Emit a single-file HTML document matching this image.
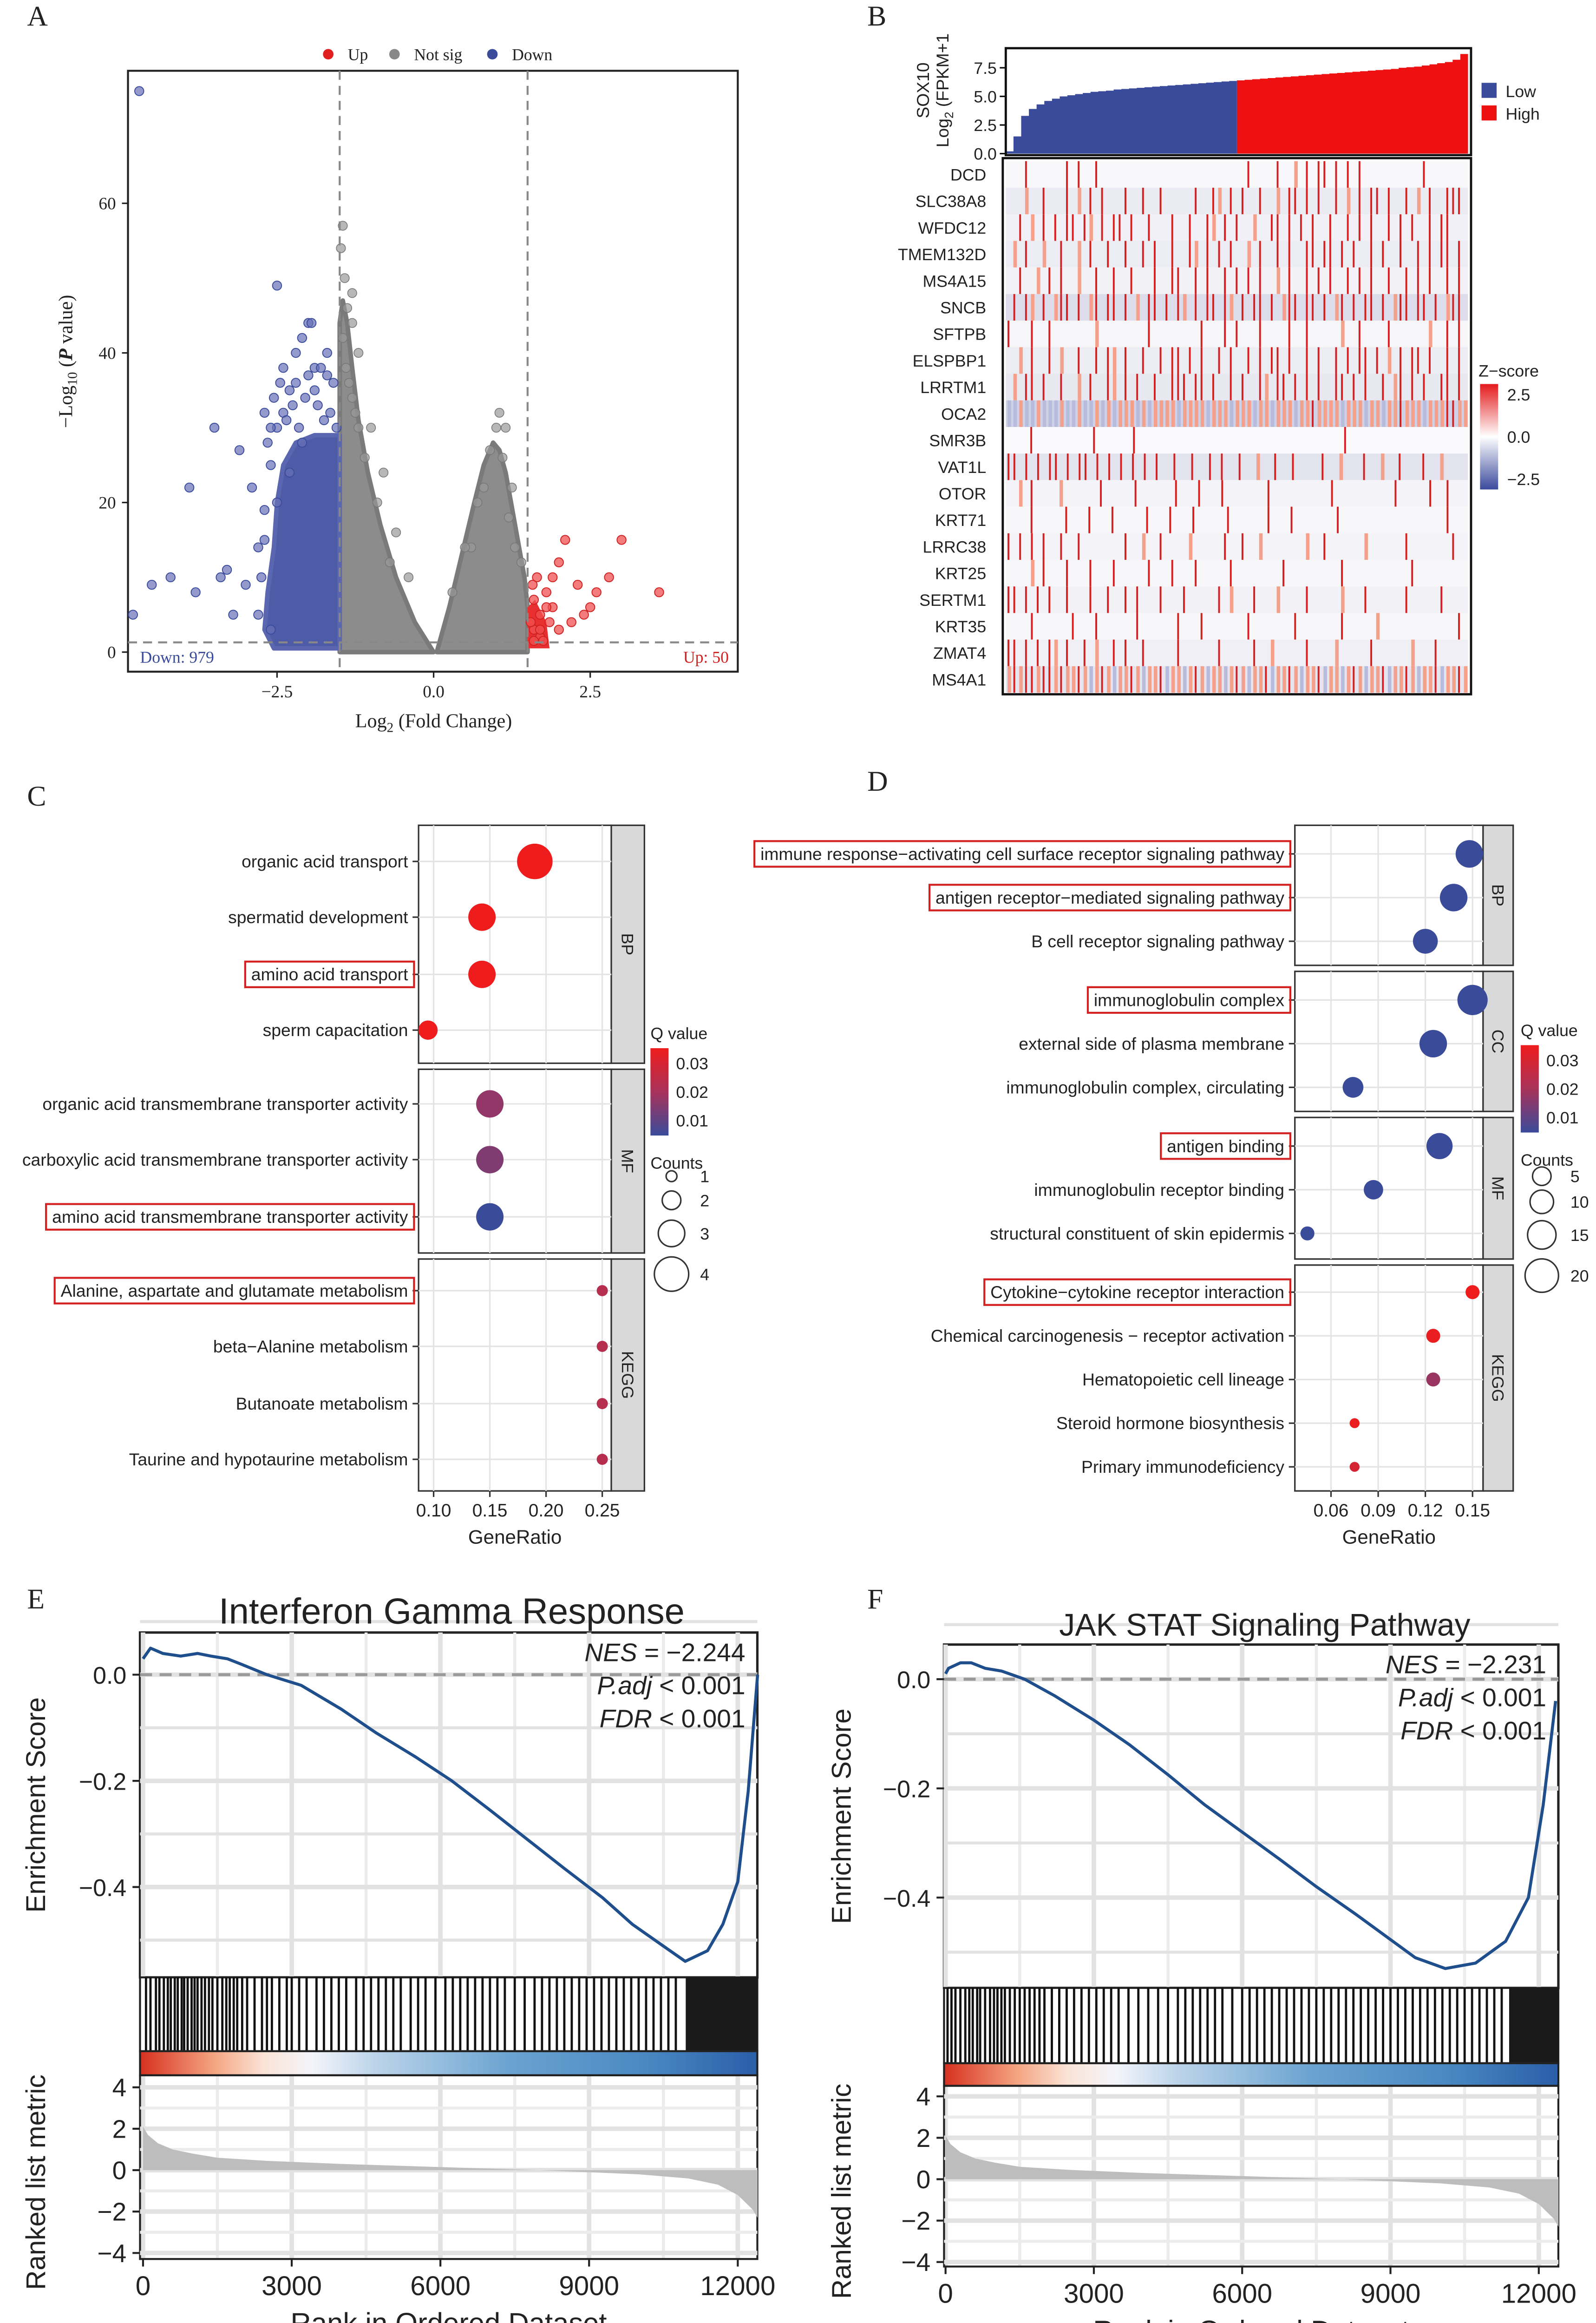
<!DOCTYPE html>
<html><head><meta charset="utf-8">
<style>
html,body{margin:0;padding:0;background:#fff;overflow:hidden;}
svg{display:block;font-family:"Liberation Sans",sans-serif;}
.serif{font-family:"Liberation Serif",serif;}
</style></head>
<body>
<svg id="fig" width="3436" height="5072" viewBox="0 0 1060 1564.7" preserveAspectRatio="none" xmlns="http://www.w3.org/2000/svg">
<defs>
<linearGradient id="gsea" x1="0" x2="1" y1="0" y2="0">
<stop offset="0" stop-color="#d7301f"/><stop offset="0.12" stop-color="#f4a582"/><stop offset="0.2" stop-color="#fbe3d6"/><stop offset="0.28" stop-color="#f3f5fa"/><stop offset="0.38" stop-color="#bcd4ea"/><stop offset="0.6" stop-color="#6aa3d0"/><stop offset="0.82" stop-color="#4a88c2"/><stop offset="1" stop-color="#2a5ea8"/>
</linearGradient>
<linearGradient id="zs" x1="0" x2="0" y1="0" y2="1">
<stop offset="0" stop-color="#e41a1c"/><stop offset="0.5" stop-color="#ffffff"/><stop offset="1" stop-color="#3b4a9c"/>
</linearGradient>
<linearGradient id="qv" x1="0" x2="0" y1="0" y2="1">
<stop offset="0" stop-color="#ee1c1c"/><stop offset="0.5" stop-color="#a8325a"/><stop offset="1" stop-color="#3a4b9a"/>
</linearGradient>
</defs>
<g id="root"></g>
</svg>
<script>
// ---------- DATA ----------
// Panel A volcano
const volUpX=[1.6,1.7,1.8,1.9,2.0,2.1,2.3,2.5,2.6,2.8,3.0,3.6,2.4,1.9,1.6,1.7,2.2,1.55,1.65,2.0,1.75,1.85,1.6,1.7,1.8,1.58];
const volUpY=[3,5,8,10,12,15,9,6,8,10,15,8,5,6,7,2,4,4,10,3,1.5,4,1.5,3,6,9];
const volDownX=[-4.7,-2.5,-2.0,-2.1,-3.9,-4.8,-4.5,-4.2,-3.8,-3.4,-3.3,-3.2,-3.0,-2.8,-2.7,-2.6,-2.5,-2.4,-2.3,-2.2,-2.0,-1.9,-1.8,-1.7,-1.6,-3.5,-2.9,-2.7,-2.4,-3.1,-2.2,-1.95,-2.6,-2.65,-2.55,-2.45,-2.35,-2.25,-2.15,-2.05,-1.85,-1.75,-1.65,-1.55,-2.8,-2.75,-2.7,-2.6,-2.5,-2.3,-2.1,-1.9,-1.7];
const volDownY=[75,49,44,42,22,5,9,10,8,10,11,5,9,14,19,25,30,32,35,36,37,38,38,37,36,30,22,32,38,27,40,44,30,28,34,36,31,33,30,34,33,31,32,30,5,10,15,3,20,24,28,35,40];
const volGrayX=[-1.45,-1.4,-1.3,-1.2,-1.1,-0.9,-0.7,0.6,0.8,0.9,1.0,1.1,1.2,1.3,-1.35,-1.25,-1.48,-1.42,-1.38,-1.3,-1.2,-1.0,-0.8,-0.6,-0.4,0.3,0.5,0.7,1.05,1.15,1.25,1.4,-1.45,-1.3];
const volGrayY=[42,38,34,30,26,20,12,14,22,27,30,26,18,14,36,32,54,50,46,44,40,30,24,16,10,8,14,20,32,30,22,12,57,48];
const volXTicks=[-2.5,0,2.5];
const volYTicks=[0,20,40,60];
// Panel B
const exprBlue=[0.2,1.5,3.3,3.9,4.3,4.6,4.8,5.0,5.1,5.2,5.3,5.4,5.45,5.5,5.6,5.65,5.7,5.75,5.8,5.85,5.9,5.95,6.0,6.05,6.1,6.15,6.2,6.25,6.3,6.35];
const exprRed=[6.4,6.45,6.5,6.55,6.6,6.65,6.7,6.75,6.8,6.85,6.9,6.95,7.0,7.05,7.1,7.15,7.2,7.25,7.3,7.35,7.4,7.5,7.55,7.6,7.7,7.8,7.9,8.0,8.2,8.7];
const exprTicks=[0,2.5,5,7.5];
const genes=["DCD","SLC38A8","WFDC12","TMEM132D","MS4A15","SNCB","SFTPB","ELSPBP1","LRRTM1","OCA2","SMR3B","VAT1L","OTOR","KRT71","LRRC38","KRT25","SERTM1","KRT35","ZMAT4","MS4A1"];
const geneBg=["#f8f8fb","#ebebf3","#f0f0f6","#ececf4","#f1f1f6","#dcdceb","#f6f6f9","#ececf3","#e8e8f1","#cfd2e6","#f9f9fb","#e3e3ee","#f4f4f8","#f7f7fa","#f4f4f8","#f7f7fa","#f1f1f6","#f7f7fa","#efeff5","#e6e4ee"];
const geneHits=[
"...r......r.r..r.........................r....r..p.r.rr.r.r.r..........r.......",
"...p..r...r.p.r.r...r..r..r.....r..rp.r.r..r..p.rr.r.r..r.p.r.rr.r..r.p.r..rrr.",
"..r.p.r.r.rr.rp.r.rr.r..r...r..r..rp.r.r..p..rr.r.r.r..r..r.r.r..r.r.r..r.rr...",
".p.r..p..r..p.r..r..r..r.r..r..rp.r.r.r..p.r..r.r..rr.rr.r.r..r.r..r..r.r.rr.r.",
"..r..p.r.r..p..r..r..r...r..rr..r.r..r.r.r.r..p.r..r.r.r..r.r.r..r..r.r.r..r.r.",
".r.rp.r.prr.r.pr.rr.r.p.rr.r.rp.r.rr.rp.r.rr.r.prr.rr.r.pr.r.rr.r.prr.rr.r.prr.",
"r...r..r.......p........r........r...r.r...r....r..r.....p..r....r......p..r.r.",
"..p.r..r.p..r..r.rp.r..r..r.rr.r.r..r.r..r.r.rr.r..r.r..r.r.rr.r.p.r.rr.r..r.r.",
".p.rr.r..r..p.r..rp.r.r..r..rrr.rr.r..r.r..rp.rr.r.r.r..rr.r.r..r.pr.r.r..rr.r.",
"bbpbbpbbbpbbpbbpbpbpppbpbppppbppppbpppbpppbppbpppbpprppppbpppbppbpprpppbppprrpp",
"....r..........r......r....................................r.....................",
"rr.r.r.rr.r.rr.r.r.r.r.r.r..r..r..r.r..r..p..r..r....r..p...r..p..r...r..p....",
"..p.r....p......r.....r......r...r...r.......r..........r..........r.....r..r...",
"....r.....r...r...r.....r...r...r.....r......r...r.......r..................r...",
"r.r.r.r..r..r.......r..p..r....p.....r..r..p.......p..r......p......r.......r..",
"....p.r...r...r...r.....r...r...r.....r........r.........r...........r.........",
"rr.r.r.r..r...r..r..r.r...r...r.....r.p...r...p....r.....p...r......r.....r....",
"....r......r...r......r......r...r.......r.......r.......r.....p.............r.",
"rr.r.r.rp.r..r.p..r.r..r.....r......r.....r..p.....r....p.....r......p...r.....",
"prprrprrprpprpbprpbpprpbpprbppbprpbppbprpbpprbpprpbpprbppbprpbpprbpprpbpprbpprp"
];
// Panel C
const cTerms=["organic acid transport","spermatid development","amino acid transport","sperm capacitation","organic acid transmembrane transporter activity","carboxylic acid transmembrane transporter activity","amino acid transmembrane transporter activity","Alanine, aspartate and glutamate metabolism","beta\u2212Alanine metabolism","Butanoate metabolism","Taurine and hypotaurine metabolism"];
const cRatio=[0.19,0.143,0.143,0.095,0.15,0.15,0.15,0.25,0.25,0.25,0.25];
const cCount=[4,3,3,2,3,3,3,1,1,1,1];
const cQ=[0.033,0.033,0.033,0.035,0.018,0.016,0.008,0.023,0.023,0.023,0.023];
const cBoxed=[2,6,7];
const cTicks=[0.10,0.15,0.20,0.25];
// Panel D
const dTerms=["immune response\u2212activating cell surface receptor signaling pathway","antigen receptor\u2212mediated signaling pathway","B cell receptor signaling pathway","immunoglobulin complex","external side of plasma membrane","immunoglobulin complex, circulating","antigen binding","immunoglobulin receptor binding","structural constituent of skin epidermis","Cytokine\u2212cytokine receptor interaction","Chemical carcinogenesis \u2212 receptor activation","Hematopoietic cell lineage","Steroid hormone biosynthesis","Primary immunodeficiency"];
const dRatio=[0.148,0.138,0.12,0.15,0.125,0.074,0.129,0.087,0.045,0.15,0.125,0.125,0.075,0.075];
const dCount=[17,17,15,19,17,12,16,11,7,7,7,7,4,4];
const dQ=[0.004,0.004,0.004,0.004,0.004,0.004,0.004,0.004,0.004,0.036,0.035,0.018,0.035,0.03];
const dBoxed=[0,1,3,6,9];
const dTicks=[0.06,0.09,0.12,0.15];
// Panel E/F GSEA
const eRank=[0,150,400,760,1100,1370,1700,1975,2500,3190,4000,4710,5500,6230,7000,7750,8500,9270,9870,10480,10940,11390,11700,12000,12210,12400];
const eES=[0.03,0.05,0.04,0.035,0.04,0.035,0.03,0.02,0.0,-0.02,-0.065,-0.11,-0.155,-0.2,-0.255,-0.31,-0.365,-0.42,-0.47,-0.51,-0.54,-0.52,-0.47,-0.39,-0.22,0.0];
const fRank=[0,60,300,520,800,1130,1600,2200,3000,3720,4500,5240,6000,6760,7500,8290,9500,10110,10720,11330,11790,12090,12340];
const fES=[0.01,0.02,0.03,0.03,0.02,0.015,0.0,-0.03,-0.075,-0.12,-0.175,-0.23,-0.28,-0.33,-0.38,-0.43,-0.51,-0.53,-0.52,-0.48,-0.4,-0.23,-0.04];
const eHits=[60,150,260,330,420,500,560,640,700,780,830,900,980,1040,1100,1180,1250,1330,1400,1500,1600,1680,1750,1830,1900,2000,2100,2250,2400,2500,2600,2750,2900,3000,3150,3300,3500,3650,3800,3950,4100,4300,4450,4600,4750,4900,5050,5200,5400,5550,5700,5900,6100,6250,6400,6550,6700,6850,7000,7150,7300,7500,7700,7900,8050,8200,8350,8500,8650,8800,8950,9100,9250,9400,9550,9700,9850,10000,10150,10300,10450,10600,10750];
const fHits=[40,120,200,300,400,480,550,640,700,800,900,980,1050,1130,1200,1300,1400,1500,1600,1700,1800,1900,2000,2150,2300,2450,2600,2750,2900,3050,3200,3350,3500,3700,3900,4100,4300,4500,4700,4850,5000,5150,5300,5450,5600,5800,6000,6150,6300,6450,6600,6750,6900,7050,7200,7350,7500,7650,7800,7950,8100,8250,8400,8550,8700,8850,9000,9150,9300,9450,9600,9750,9900,10050,10200,10350,10500,10650,10800,10950,11100,11250];
const metRank=[0,100,300,600,1000,1500,2500,4000,6000,8000,10000,11000,11600,12000,12300,12400];
const metVal=[2.1,1.7,1.3,1.0,0.8,0.6,0.45,0.3,0.15,0.0,-0.2,-0.4,-0.7,-1.2,-1.9,-2.3];
const gseaXTicks=[0,3000,6000,9000,12000];
const esTicks=[0,-0.2,-0.4];
const metTicks=[4,2,0,-2,-4];

// ---------- HELPERS ----------
const NS="http://www.w3.org/2000/svg";
const root=document.getElementById('root');
function mk(tag,at,parent){const e=document.createElementNS(NS,tag);for(const k in at)e.setAttribute(k,at[k]);(parent||root).appendChild(e);return e;}
function txt(s,x,y,size,anchor,extra){const e=mk('text',Object.assign({x:x,y:y,'font-size':size,'text-anchor':anchor||'start',fill:'#222'},extra||{}));e.textContent=s;return e;}
function lin(d0,d1,r0,r1){return v=>r0+(v-d0)*(r1-r0)/(d1-d0);}

// ---------- PANEL LETTERS ----------
[["A",18,17],["B",576,17],["C",18,535],["D",576,525],["E",18,1068],["F",576,1068]].forEach(p=>{
 const t=txt(p[0],p[1],p[2],19,'start',{class:'serif'});
 
 
});

// ---------- PANEL A ----------
{
const ax=lin(0,2.5,288,392), ay=lin(0,60,433,135);
const f=mk('rect',{x:85,y:47,width:405,height:399,fill:'#fff',stroke:'#222','stroke-width':1.3});


const P=a=>a.map(p=>ax(p[0])+','+ay(p[1])).join(' ');
const gl=mk('polygon',{points:P([[-1.5,0],[-1.5,44],[-1.45,47],[-1.38,44],[-1.3,38],[-1.2,31],[-1.05,24],[-0.85,17],[-0.6,10],[-0.3,4],[0,0]]),fill:'#8c8c8c',stroke:'#7a7a7a','stroke-width':3,'stroke-linejoin':'round'});


const gr=mk('polygon',{points:P([[0.05,0],[0.25,6],[0.45,13],[0.65,20],[0.8,25],[0.95,28],[1.05,27],[1.15,24],[1.3,17],[1.45,10],[1.5,6],[1.5,0]]),fill:'#8c8c8c',stroke:'#7a7a7a','stroke-width':3,'stroke-linejoin':'round'});


const bl=mk('polygon',{points:P([[-1.5,0.5],[-2.55,0.5],[-2.7,3],[-2.65,8],[-2.55,14],[-2.5,20],[-2.4,25],[-2.2,28],[-1.9,29],[-1.5,29]]),fill:'#4e5ca8',stroke:'#5a67b0','stroke-width':3,'stroke-linejoin':'round'});


const rl=mk('polygon',{points:P([[1.5,0.5],[1.85,0.5],[1.8,4],[1.62,7],[1.5,6]]),fill:'#e83030'});


volGrayX.forEach((x,i)=>{const c=mk('circle',{cx:ax(x),cy:ay(volGrayY[i]),r:3,fill:'#999','fill-opacity':0.7,stroke:'#777','stroke-width':0.5});
 
 });
volDownX.forEach((x,i)=>{const c=mk('circle',{cx:ax(x),cy:ay(volDownY[i]),r:3,fill:'#6670b6','fill-opacity':0.7,stroke:'#3b4b9c','stroke-width':0.6});
 
 });
volUpX.forEach((x,i)=>{const c=mk('circle',{cx:ax(x),cy:ay(volUpY[i]),r:3,fill:'#f05050','fill-opacity':0.75,stroke:'#d02020','stroke-width':0.6});
 
 });
[[-1.5],[1.5]].forEach(v=>{const l=mk('line',{x1:ax(v[0]),x2:ax(v[0]),y1:47,y2:446,stroke:'#888','stroke-width':1.3,'stroke-dasharray':'6,4'});
 
 });
const hl=mk('line',{x1:85,x2:490,y1:ay(1.3),y2:ay(1.3),stroke:'#888','stroke-width':1.3,'stroke-dasharray':'6,4'});


volXTicks.forEach(v=>{const l=mk('line',{x1:ax(v),x2:ax(v),y1:446,y2:450,stroke:'#222'});
 const t=txt(v.toFixed(1).replace('-','\u2212'),ax(v),463,11.5,'middle',{class:'serif'});});
volYTicks.forEach(v=>{const l=mk('line',{x1:81,x2:85,y1:ay(v),y2:ay(v),stroke:'#222'});
 const t=txt(String(v),77,ay(v)+4,11.5,'end',{class:'serif'});});
const xt=txt('',288,483,13,'middle',{class:'serif'});xt.innerHTML='Log<tspan font-size="9" dy="3">2</tspan><tspan dy="-3"> (Fold Change)</tspan>';

const yt=txt('',48,240,13,'middle',{class:'serif',transform:'rotate(-90 48 240)'});yt.innerHTML='\u2212Log<tspan font-size="9" dy="3">10</tspan><tspan dy="-3"> (</tspan><tspan font-weight="bold" font-style="italic">P</tspan> value)';

const d1=txt('Down: 979',93,440,11,'start',{class:'serif',fill:'#3b4b9c'});
const u1=txt('Up: 50',484,440,11,'end',{class:'serif',fill:'#d02020'});
[["Up",'#e02020',218],["Not sig",'#888',262],["Down",'#3b4b9c',327]].forEach(L=>{
 const c=mk('circle',{cx:L[2],cy:36,r:3.5,fill:L[1]});
 const t=txt(L[0],L[2]+13,40,11,'start',{class:'serif'});});
}

// ---------- PANEL B ----------
{
const x0=668,x1=975;
const ay=lin(0,7.5,102,45);
const all=exprBlue.concat(exprRed), n=all.length, bw=(x1-x0)/n, nb=exprBlue.length;
let pb='M'+x0+','+ay(0), pr='M'+(x0+bw*nb)+','+ay(0);
all.forEach((v,i)=>{const xa=x0+i*bw, xb=xa+bw; const seg=' L'+xa+','+ay(v)+' L'+xb+','+ay(v); if(i<nb)pb+=seg; else pr+=seg;});
pb+=' L'+(x0+bw*nb)+','+ay(0)+'Z'; pr+=' L'+x1+','+ay(0)+'Z';
const ab=mk('path',{d:pb,fill:'#3b4b9c'});
const ar=mk('path',{d:pr,fill:'#ee1111'});
const fr=mk('rect',{x:x0,y:32,width:x1-x0+2,height:71,fill:'none',stroke:'#111','stroke-width':1.5});
exprTicks.forEach(v=>{const l=mk('line',{x1:x0-4,x2:x0,y1:ay(v),y2:ay(v),stroke:'#111'});
 const t=txt(v.toFixed(1),x0-6,ay(v)+4,11,'end');});
const yt=txt('',617,60,11.5,'middle',{transform:'rotate(-90 617 60)'});yt.innerHTML='SOX10';

const yt2=txt('',630,60,11.5,'middle',{transform:'rotate(-90 630 60)'});yt2.innerHTML='Log<tspan font-size="8" dy="3">2</tspan><tspan dy="-3"> (FPKM+1</tspan>';

[["Low",'#3b4b9c',55],["High",'#ee1111',70]].forEach(L=>{const r=mk('rect',{x:984,y:L[2],width:10,height:10,fill:L[1]});
 const t=txt(L[0],1000,L[2]+9.5,11);});
const hy0=107, rh=(460-107)/genes.length;
const colors={r:'#d42020',p:'#f4a08a',b:'#b8bcdc'};
genes.forEach((g,i)=>{
 const y=hy0+i*rh;
 const bg=mk('rect',{x:x0,y:y,width:x1-x0,height:rh,fill:geneBg[i]});
 const s=geneHits[i], cw=(x1-x0)/s.length;
 for(let j=0;j<s.length;j++){const ch=s[j]; if(ch==='.')continue;
  const c=mk('rect',{x:x0+j*cw+cw*0.3,y:y,width:(ch==='r'?1.2:cw*0.6),height:rh,fill:colors[ch]});
  
  }
 const t=txt(g,655,y+rh/2+4,11,'end');
});
const hf=mk('rect',{x:x0-2,y:105,width:x1-x0+4,height:356,fill:'none',stroke:'#111','stroke-width':1.5});
const zt=txt('Z\u2212score',982,250,11);
const zb=mk('rect',{x:983,y:255,width:12,height:70,fill:'url(#zs)'});
[["2.5",262],["0.0",290],["\u22122.5",318]].forEach(z=>{const t=txt(z[0],1001,z[1]+4,11);});
}

// ---------- DOT PLOT helper ----------
function qColor(q,qmin,qmax){let t=(q-qmin)/(qmax-qmin);t=Math.max(0,Math.min(1,t));
 const a=[58,75,154],m=[168,50,90],b=[238,28,28];let c;
 if(t<0.5){const u=t/0.5;c=a.map((v,k)=>v+(m[k]-v)*u);}else{const u=(t-0.5)/0.5;c=m.map((v,k)=>v+(b[k]-v)*u);}
 return 'rgb('+c.map(Math.round).join(',')+')';}
function dotPanel(o){
 const ax=lin(o.tk[0],o.tk[o.tk.length-1],o.tx0,o.tx1);
 o.facets.forEach(F=>{
  const r=mk('rect',{x:o.px0,y:F.y0,width:o.px1-o.px0,height:F.y1-F.y0,fill:'#fff',stroke:'#333','stroke-width':1});
  
  o.tk.forEach(v=>{const l=mk('line',{x1:ax(v),x2:ax(v),y1:F.y0,y2:F.y1,stroke:'#e4e4e4'});});
  const s=mk('rect',{x:o.px1,y:F.y0,width:o.sw,height:F.y1-F.y0,fill:'#d9d9d9',stroke:'#333','stroke-width':1});
  
  const cx=o.px1+o.sw/2,cy=(F.y0+F.y1)/2;
  const t=txt(F.name,cx,cy,11,'middle',{transform:'rotate(90 '+cx+' '+cy+')',dy:4});
 });
 o.terms.forEach((term,i)=>{
  const y=o.ys[i];
  const gl=mk('line',{x1:o.px0,x2:o.px1,y1:y,y2:y,stroke:'#e4e4e4'});
  const tk=mk('line',{x1:o.px0-4,x2:o.px0,y1:y,y2:y,stroke:'#333'});
  const t=txt(term,o.px0-7,y+4,o.fs,'end');
  if(o.boxed.indexOf(i)>=0){const w=t.getComputedTextLength? t.getComputedTextLength():term.length*5.6;
   const b=mk('rect',{x:o.px0-7-w-4,y:y-8.5,width:w+8,height:17,fill:'none',stroke:'#d42020','stroke-width':1.3});}
  const c=mk('circle',{cx:ax(o.ratio[i]),cy:y,r:o.rs(o.count[i]),fill:qColor(o.q[i],o.qmin,o.qmax)});
  
  
 });
 const ylast=o.facets[o.facets.length-1].y1;
 o.tk.forEach(v=>{const l=mk('line',{x1:ax(v),x2:ax(v),y1:ylast,y2:ylast+4,stroke:'#333'});
  const t=txt(v.toFixed(2),ax(v),ylast+17,12,'middle');});
 const xt=txt('GeneRatio',(o.px0+o.px1)/2,ylast+35,13,'middle');
}
dotPanel({terms:cTerms,ratio:cRatio,count:cCount,q:cQ,boxed:cBoxed,tk:cTicks,tx0:288,tx1:400,px0:278,px1:406,sw:22,fs:11.5,
 ys:[572,609,647,684,733,770,808,857,894,932,969],
 facets:[{name:'BP',y0:548,y1:706},{name:'MF',y0:710,y1:832},{name:'KEGG',y0:836,y1:990}],
 rs:n=>1+n*2.7,qmin:0.008,qmax:0.033});
dotPanel({terms:dTerms,ratio:dRatio,count:dCount,q:dQ,boxed:dBoxed,tk:dTicks,tx0:884,tx1:978,px0:860,px1:985,sw:20,fs:11.5,
 ys:[567,596,625,664,693,722,761,790,819,858,887,916,945,974],
 facets:[{name:'BP',y0:548,y1:641},{name:'CC',y0:645,y1:738},{name:'MF',y0:742,y1:836},{name:'KEGG',y0:840,y1:990}],
 rs:n=>1.5+n*0.45,qmin:0.004,qmax:0.036});
function dotLegend(x,y,qs,counts,rs,ys){
 const t=txt('Q value',x,y,11);
 const b=mk('rect',{x:x,y:y+6,width:12,height:58,fill:'url(#qv)'});
 qs.forEach((q,i)=>{const tt=txt(q,x+17,y+20+i*19,11);});
 const c=txt('Counts',x,y+86,11);
 counts.forEach((n,i)=>{const cc=mk('circle',{cx:x+14,cy:ys[i],r:rs(n),fill:'#fff',stroke:'#333'});
  const tt=txt(String(n),x+33,ys[i]+4,11);});
}
dotLegend(432,690,['0.03','0.02','0.01'],[1,2,3,4],n=>1+n*2.6,[781,797,819,846]);
dotLegend(1010,688,['0.03','0.02','0.01'],[5,10,15,20],n=>4.5+n*0.33,[781,798,820,847]);

// ---------- GSEA helper ----------
function gsea(o){
 const ax=lin(0,12000,o.x0,o.x12), ay=lin(0,-0.4,o.y0,o.y04), am=lin(0,4,o.m0,o.m4);
 const f=mk('rect',{x:o.bx0,y:o.top,width:o.bx1-o.bx0,height:o.bar-o.top,fill:'#fff',stroke:'#222','stroke-width':1.6});
 gseaXTicks.forEach(v=>{[[o.top,o.bar],[o.met0,o.met1]].forEach(r=>{const l=mk('line',{x1:ax(v),x2:ax(v),y1:r[0],y2:r[1],stroke:'#e2e2e2','stroke-width':3});});
  if(v<12000){[o.top,o.met0].forEach((yy,k)=>{const l2=mk('line',{x1:ax(v+1500),x2:ax(v+1500),y1:yy,y2:k?o.met1:o.bar,stroke:'#ececec','stroke-width':2});});}});
 [0.1,0,-0.1,-0.2,-0.3,-0.4,-0.5].forEach(v=>{const l=mk('line',{x1:o.bx0,x2:o.bx1,y1:ay(v),y2:ay(v),stroke:'#e2e2e2','stroke-width':(Math.round(v*10)%2===0?3:2)});});
 const z=mk('line',{x1:o.bx0,x2:o.bx1,y1:ay(0),y2:ay(0),stroke:'#999','stroke-width':2,'stroke-dasharray':'8,5'});
 const p=mk('path',{d:o.rank.map((r,i)=>(i?'L':'M')+ax(r)+','+ay(o.es[i])).join(' '),fill:'none',stroke:'#1f4e8c','stroke-width':2,'stroke-linejoin':'round'});
 
 esTicks.forEach(v=>{const l=mk('line',{x1:o.bx0-5,x2:o.bx0,y1:ay(v),y2:ay(v),stroke:'#222','stroke-width':1.3});
  const t=txt(v.toFixed(1).replace('-','\u2212'),o.bx0-9,ay(v)+6,16,'end');});
 o.stats.forEach((s,i)=>{const t=txt('',o.bx1-8,o.top+19+i*22,17,'end');t.innerHTML='<tspan font-style="italic">'+s[0]+'</tspan>'+s[1];});
 const ti=txt(o.title,o.tcx,o.ty,o.tsize,'middle');
 const yt=txt('Enrichment Score',o.ylx,(o.top+o.bar)/2,18,'middle',{transform:'rotate(-90 '+o.ylx+' '+(o.top+o.bar)/2+')'});
 const bc=mk('rect',{x:o.bx0,y:o.bar,width:o.bx1-o.bx0,height:o.cb-o.bar,fill:'#fff',stroke:'#222','stroke-width':1.3});
 o.hits.forEach(h=>{const l=mk('line',{x1:ax(h),x2:ax(h),y1:o.bar,y2:o.cb,stroke:'#111','stroke-width':1.5});});
 const dense=mk('rect',{x:ax(o.denseFrom),y:o.bar,width:o.bx1-ax(o.denseFrom),height:o.cb-o.bar,fill:'#1a1a1a'});
 const cbr=mk('rect',{x:o.bx0,y:o.cb,width:o.bx1-o.bx0,height:o.met0-o.cb,fill:'url(#gsea)',stroke:'#222','stroke-width':1.3});
 const mf=mk('rect',{x:o.bx0,y:o.met0,width:o.bx1-o.bx0,height:o.met1-o.met0,fill:'none',stroke:'#222','stroke-width':1.3});
 [3,1,-1,-3].forEach(v=>{const l=mk('line',{x1:o.bx0,x2:o.bx1,y1:am(v),y2:am(v),stroke:'#ececec','stroke-width':2});});
 metTicks.forEach(v=>{const l=mk('line',{x1:o.bx0,x2:o.bx1,y1:am(v),y2:am(v),stroke:'#e2e2e2','stroke-width':3});});
 const ma=mk('path',{d:'M'+ax(0)+','+am(0)+' '+metRank.map((r,i)=>'L'+ax(r)+','+am(metVal[i])).join(' ')+' L'+ax(metRank[metRank.length-1])+','+am(0)+'Z',fill:'#bdbdbd'});
 
 metTicks.forEach(v=>{const l=mk('line',{x1:o.bx0-5,x2:o.bx0,y1:am(v),y2:am(v),stroke:'#222','stroke-width':1.3});
  const t=txt(String(v).replace('-','\u2212'),o.bx0-9,am(v)+6,17,'end');});
 const my=(o.met0+o.met1)/2+10;
 const mt=txt('Ranked list metric',o.ylx,my,18,'middle',{transform:'rotate(-90 '+o.ylx+' '+my+')'});
 gseaXTicks.forEach(v=>{const l=mk('line',{x1:ax(v),x2:ax(v),y1:o.met1,y2:o.met1+5,stroke:'#222','stroke-width':1.3});
  const t=txt(String(v),ax(v),o.met1+24,18,'middle');});
 const xt=txt('Rank in Ordered Dataset',(o.bx0+o.bx1)/2,o.met1+49,19,'middle');
}
gsea({x0:95,x12:490,y0:1112,y04:1253,m0:1441,m4:1386,bx0:93,bx1:503,top:1084,bar:1313,cb:1362,met0:1378,met1:1500,
 rank:eRank,es:eES,hits:eHits,denseFrom:10950,title:'Interferon Gamma Response',tcx:300,ty:1078,tsize:24,ylx:30,
 stats:[['NES',' = \u22122.244'],['P.adj',' < 0.001'],['FDR',' < 0.001']]});
gsea({x0:628,x12:1022,y0:1115,y04:1260,m0:1447,m4:1392,bx0:627,bx1:1035,top:1092,bar:1320,cb:1370,met0:1385,met1:1505,
 rank:fRank,es:fES,hits:fHits,denseFrom:11400,title:'JAK STAT Signaling Pathway',tcx:840,ty:1086,tsize:21,ylx:565,
 stats:[['NES',' = \u22122.231'],['P.adj',' < 0.001'],['FDR',' < 0.001']]});
</script>
</body></html>
